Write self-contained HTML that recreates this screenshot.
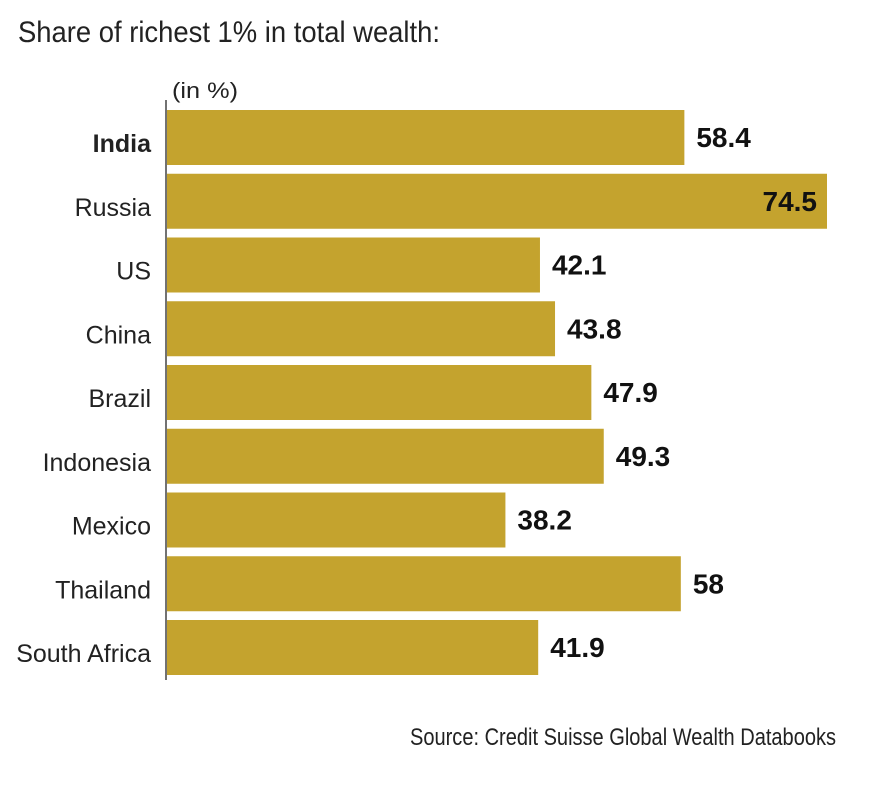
<!DOCTYPE html>
<html><head><meta charset="utf-8"><style>
html,body{margin:0;padding:0;background:#fff;}
svg text{font-family:"Liberation Sans Narrow","Liberation Sans",sans-serif;}
</style></head><body>
<svg id="chart" width="892" height="791" viewBox="0 0 892 791" xmlns="http://www.w3.org/2000/svg">
<text x="18" y="42" font-size="30" fill="#222" textLength="422" lengthAdjust="spacingAndGlyphs">Share of richest 1% in total wealth:</text>
<text x="172" y="98" font-size="22" fill="#222" textLength="66" lengthAdjust="spacingAndGlyphs">(in %)</text>
<line x1="166" y1="100" x2="166" y2="680" stroke="#444" stroke-width="1.5"/>
<g id="bars"></g>
<text x="410" y="745" font-size="24" fill="#222" textLength="426" lengthAdjust="spacingAndGlyphs">Source: Credit Suisse Global Wealth Databooks</text>
</svg>
<script>
const categories = ["India","Russia","US","China","Brazil","Indonesia","Mexico","Thailand","South Africa"];
const values = [58.4,74.5,42.1,43.8,47.9,49.3,38.2,58,41.9];
const labels = ["58.4","74.5","42.1","43.8","47.9","49.3","38.2","58","41.9"];
const NS="http://www.w3.org/2000/svg";
const x0=167, pxPer=(827-167)/74.5;
const xScale=v=>x0+v*pxPer;
const yScale=i=>110+i*63.75;
const g=document.getElementById('bars');
const maxV=Math.max(...values);
categories.forEach((c,i)=>{
  const y=yScale(i), w=xScale(values[i])-x0;
  const r=document.createElementNS(NS,'rect');
  
  
  r.setAttribute('x',x0);r.setAttribute('y',y);r.setAttribute('width',w);r.setAttribute('height',55);
  r.setAttribute('fill','#c4a32e');
  g.appendChild(r);
  const t=document.createElementNS(NS,'text');
  
  
  t.setAttribute('x',151);t.setAttribute('y',y+42);t.setAttribute('text-anchor','end');
  t.setAttribute('font-size','25');t.setAttribute('fill','#222');
  if(i===0)t.setAttribute('font-weight','bold');
  t.textContent=c;g.appendChild(t);
  const v=document.createElementNS(NS,'text');
  
  
  const inside = values[i]===maxV;
  v.setAttribute('x',inside?xScale(values[i])-10:xScale(values[i])+12);
  v.setAttribute('text-anchor',inside?'end':'start');
  v.setAttribute('y',y+37);v.setAttribute('font-size','28');v.setAttribute('font-weight','bold');v.setAttribute('fill','#111');
  v.textContent=labels[i];g.appendChild(v);
});
</script>
</body></html>
